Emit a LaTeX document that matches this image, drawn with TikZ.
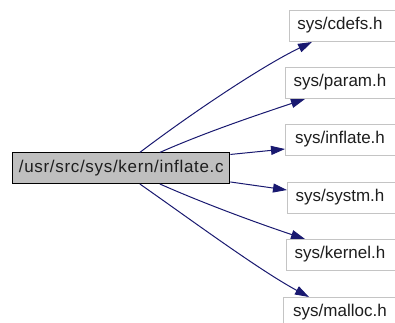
\documentclass[tikz,border=0pt]{standalone}
\usepackage{fontspec}
\setmainfont{Liberation Sans}
\newfontfamily\mainlabelfont[LetterSpace=4]{Liberation Sans}
\usetikzlibrary{arrows.meta}
\definecolor{edgeblue}{HTML}{191970}
\definecolor{boxgray}{HTML}{BFBFBF}
\definecolor{hdrborder}{HTML}{C4C4C4}
\definecolor{txt}{HTML}{1E1E1E}
\tikzset{
  srcbox/.style={draw=black, line width=1pt, fill=boxgray, rectangle,
    minimum width=217pt, minimum height=30.5pt, inner sep=0pt,
    text=txt, font=\mainlabelfont\fontsize{17}{20}\selectfont},
  hdrbox/.style={draw=hdrborder, line width=1pt, fill=white, rectangle,
    anchor=north west, minimum width=130pt, minimum height=31pt, inner sep=0pt},
  hdrtext/.style={inner sep=0pt, text=txt, font=\fontsize{17}{20}\selectfont},
  dep/.style={draw=edgeblue, line width=1pt,
    -{Triangle[length=14pt,width=9pt]}},
}
\begin{document}
\begin{tikzpicture}[x=1pt, y=-1pt]
  \useasboundingbox (0,0) rectangle (395,322);
  \clip (0,0) rectangle (395,322);

  % source file
  \node[srcbox] (main) at (121.3,168.2) {/usr/src/sys/kern/inflate.c};

  % included headers (boxes run past the right border)
  \node[hdrbox] (cdefs)   at (289,10)  {};
  \node[hdrbox] (param)   at (285,67)  {};
  \node[hdrbox] (inflate) at (285,124) {};
  \node[hdrbox] (systm)   at (287,182) {};
  \node[hdrbox] (kernel)  at (286,239) {};
  \node[hdrbox] (malloc)  at (283,297) {};

  \node[hdrtext] (cdefsT)   at (340,25.5)  {sys/cdefs.h};
  \node[hdrtext] (paramT)   at (340,82.5)  {sys/param.h};
  \node[hdrtext] (inflateT) at (340,139.5) {sys/inflate.h};
  \node[hdrtext] (systmT)   at (340,197.5) {sys/systm.h};
  \node[hdrtext] (kernelT)  at (340,254.5) {sys/kernel.h};
  \node[hdrtext] (mallocT)  at (340,312.5) {sys/malloc.h};

  % dependency edges
  \draw[dep] ([xshift=127.5pt]main.north west)
    .. controls +(50,-38) and +(-50,24) .. ([xshift=23pt]cdefs.south west);
  \draw[dep] ([xshift=147.5pt]main.north west)
    .. controls +(45,-20) and +(-45,15) .. ([xshift=20pt]param.south west);
  \draw[dep] ([yshift=-2pt]main.north east) -- ([yshift=-25pt]inflate.north west);
  \draw[dep] ([yshift=2pt]main.south east) -- ([yshift=-8pt]systm.north west);
  \draw[dep] ([xshift=147.5pt]main.south west)
    .. controls +(45,20) and +(-45,-15) .. ([xshift=19pt]kernel.north west);
  \draw[dep] ([xshift=127.5pt]main.south west)
    .. controls +(50,35) and +(-50,-27) .. ([xshift=26pt]malloc.north west);
\end{tikzpicture}
\end{document}
